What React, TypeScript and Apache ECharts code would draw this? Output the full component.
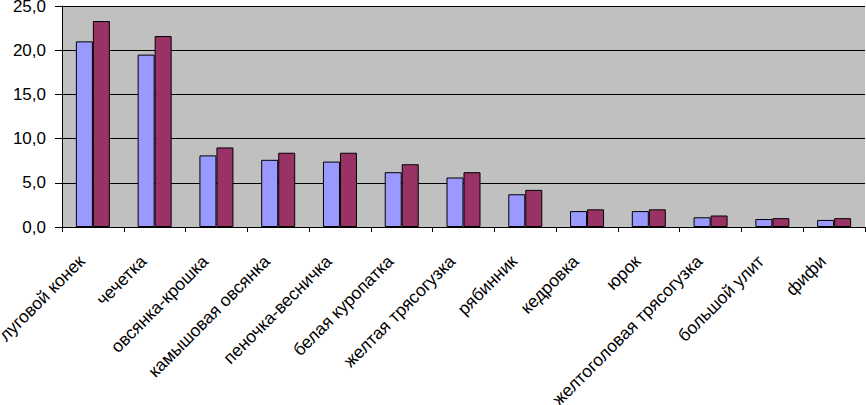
import React, { useEffect, useRef } from "react";
import * as echarts from "echarts";

const categories = [
  "луговой конек",
  "чечетка",
  "овсянка-крошка",
  "камышовая овсянка",
  "пеночка-весничка",
  "белая куропатка",
  "желтая трясогузка",
  "рябинник",
  "кедровка",
  "юрок",
  "желтоголовая трясогузка",
  "большой улит",
  "фифи",
];
const seriesA = [21.0, 19.5, 8.1, 7.6, 7.4, 6.2, 5.6, 3.7, 1.8, 1.8, 1.1, 0.9, 0.8];
const seriesB = [23.3, 21.6, 9.0, 8.4, 8.4, 7.1, 6.2, 4.2, 2.0, 2.0, 1.3, 1.0, 1.0];

export default function App() {
  const ref = useRef<HTMLDivElement>(null);
  useEffect(() => {
    if (!ref.current) return;
    const chart = echarts.init(ref.current, null, { renderer: "svg" });
    const font = "'Liberation Sans', Arial, sans-serif";
    chart.setOption({
      animation: false,
      backgroundColor: "#ffffff",
      grid: {
        left: 62,
        right: 1,
        top: 6,
        bottom: 178,
        show: true,
        backgroundColor: "#c0c0c0",
        borderWidth: 0,
        containLabel: false,
        outerBoundsMode: "none",
      },
      xAxis: {
        type: "category",
        data: categories,
        axisLine: { show: true, lineStyle: { color: "#000", width: 1 } },
        axisTick: { show: true, alignWithLabel: false, length: 5, lineStyle: { color: "#000" } },
        axisLabel: {
          rotate: 45,
          interval: 0,
          color: "#000",
          fontFamily: font,
          fontSize: 17.5,
          margin: 20,
          padding: [0, 16, 0, 0],
        },
      },
      yAxis: {
        type: "value",
        min: 0,
        max: 25,
        interval: 5,
        axisLine: { show: true, lineStyle: { color: "#000", width: 1 } },
        axisTick: { show: true, length: 7, lineStyle: { color: "#000" } },
        splitLine: { show: true, lineStyle: { color: "#000", width: 1 } },
        axisLabel: {
          color: "#000",
          fontFamily: font,
          fontSize: 17,
          margin: 16,
          formatter: (v: number) => v.toFixed(1).replace(".", ","),
        },
      },
      series: [
        {
          type: "bar",
          data: seriesA,
          barWidth: 17,
          barGap: "0%",
          itemStyle: { color: "#9999ff", borderColor: "#000", borderWidth: 1 },
        },
        {
          type: "bar",
          data: seriesB,
          barWidth: 17,
          barGap: "0%",
          itemStyle: { color: "#993366", borderColor: "#000", borderWidth: 1 },
        },
      ],
    });
    return () => chart.dispose();
  }, []);
  return (
    <div
      ref={ref}
      style={{ position: "fixed", left: 0, top: 0, width: 866, height: 405 }}
    />
  );
}
